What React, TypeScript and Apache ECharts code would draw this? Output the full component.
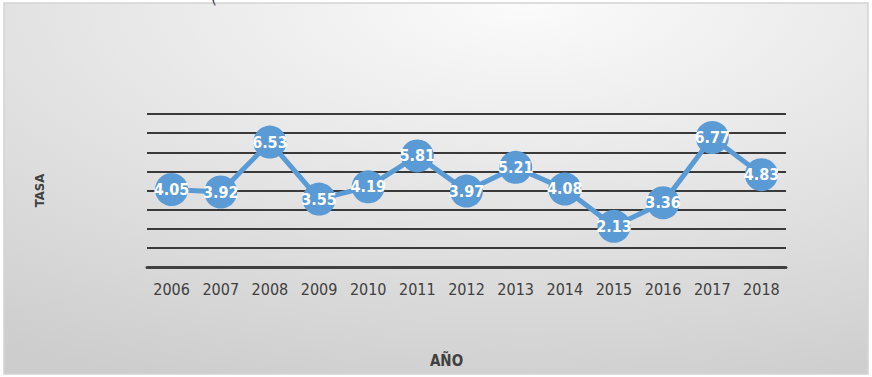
import React, { useEffect, useRef } from "react";
import * as echarts from "echarts";

const years = ["2006", "2007", "2008", "2009", "2010", "2011", "2012", "2013", "2014", "2015", "2016", "2017", "2018"];
const tasa = [4.05, 3.92, 6.53, 3.55, 4.19, 5.81, 3.97, 5.21, 4.08, 2.13, 3.36, 6.77, 4.83];
const yAxisTitle = "TASA";
const xAxisTitle = "AÑO";

export default function App() {
  const ref = useRef<HTMLDivElement>(null);
  useEffect(() => {
    if (!ref.current) return;
    const chart = echarts.init(ref.current, undefined, { renderer: "svg" });
    chart.setOption({
      animation: false,
      backgroundColor: "#ffffff",
      graphic: [
        {
          type: "rect",
          z: -10,
          silent: true,
          shape: { x: 4, y: 3, width: 864, height: 371 },
          style: {
            fill: new echarts.graphic.RadialGradient(0.6, 0.0, 1.1, [
              { offset: 0, color: "#fbfbfb" },
              { offset: 1, color: "#cdcdcd" },
            ]),
            stroke: "#d4d4d4",
            lineWidth: 1.5,
          },
        },
        {
          type: "text",
          x: 211,
          y: -10,
          style: { text: "(", fontSize: 15, fill: "#404040", fontFamily: "DejaVu Sans" },
        },
      ],
      grid: { left: 147, right: 86, top: 114, bottom: 110 },
      xAxis: {
        type: "category",
        data: years,
        boundaryGap: true,
        name: xAxisTitle,
        nameLocation: "middle",
        nameGap: 86,
        nameTextStyle: {
          color: "#404040",
          fontSize: 15,
          fontWeight: "bold",
          fontFamily: "DejaVu Sans Condensed",
          padding: [0, 40, 0, 0],
        },
        axisLine: { show: true, lineStyle: { color: "#404040", width: 3 } },
        axisTick: { show: false },
        axisLabel: { color: "#404040", fontSize: 16, margin: 14, fontFamily: "DejaVu Sans Condensed" },
      },
      yAxis: {
        type: "value",
        min: 0,
        max: 8,
        interval: 1,
        name: yAxisTitle,
        nameLocation: "middle",
        nameGap: 101,
        nameRotate: 90,
        nameTextStyle: { color: "#404040", fontSize: 13, fontWeight: "bold", fontFamily: "DejaVu Sans Condensed" },
        axisLine: { show: false },
        axisTick: { show: false },
        axisLabel: { show: false },
        splitLine: { show: true, lineStyle: { color: "#3a3a3a", width: 2 } },
      },
      series: [
        {
          type: "line",
          data: tasa,
          symbol: "circle",
          symbolSize: 33,
          lineStyle: { color: "#5b9bd5", width: 5 },
          itemStyle: { color: "#5b9bd5" },
          label: {
            show: true,
            position: "inside",
            color: "#ffffff",
            fontSize: 16,
            fontWeight: "bold",
            fontFamily: "DejaVu Sans Condensed",
            formatter: (p: any) => p.value.toFixed(2),
          },
        },
      ],
    });
    return () => chart.dispose();
  }, []);
  return <div ref={ref} style={{ position: "fixed", left: 0, top: 0, width: 872, height: 377 }} />;
}
